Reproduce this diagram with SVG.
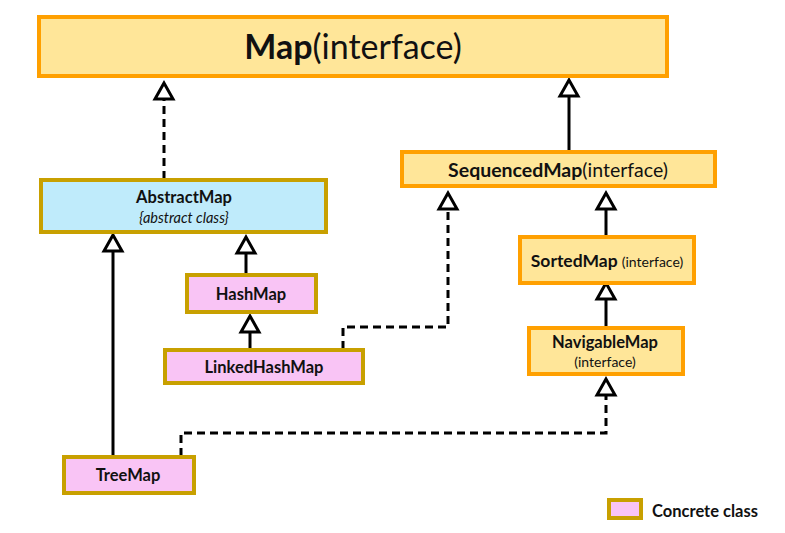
<svg xmlns="http://www.w3.org/2000/svg" width="785" height="533" viewBox="0 0 785 533">
<defs>
<style>
text{font-family:Lato,"Open Sans","Liberation Sans",sans-serif;fill:#111;text-anchor:middle}
.b{font-weight:bold}
.i{font-style:italic}
.iface{fill:#FFE699;stroke:#FFA000;stroke-width:4}
.abs{fill:#BFEBFB;stroke:#C8A000;stroke-width:4}
.conc{fill:#F9C4F5;stroke:#C8A000;stroke-width:4}
.ln{fill:none;stroke:#000;stroke-width:3}
.dash{stroke-dasharray:8 5}
.head{fill:#fff;stroke:#000;stroke-width:3;stroke-linejoin:miter}
</style>
</defs>
<rect width="785" height="533" fill="#fff"/>
<g id="connectors">
<path class="ln dash" d="M164 179 V99"/>
<path class="ln" d="M569 151 V96"/>
<path class="ln" d="M606 236 V209"/>
<path class="ln" d="M606 327 V299"/>
<path class="ln" d="M246 274 V253"/>
<path class="ln" d="M250 349 V332"/>
<path class="ln dash" d="M343 349 V327 H448 V209"/>
<path class="ln" d="M113 456 V251"/>
<path class="ln dash" d="M181 456 V433 H606 V395"/>
<polygon class="head" points="164,83 155,99 173,99"/>
<polygon class="head" points="569,80 560,96 578,96"/>
<polygon class="head" points="606,193 597,209 615,209"/>
<polygon class="head" points="606,283 597,299 615,299"/>
<polygon class="head" points="246,237 237,253 255,253"/>
<polygon class="head" points="250,316 241,332 259,332"/>
<polygon class="head" points="448,193 439,209 457,209"/>
<polygon class="head" points="113,235 104,251 122,251"/>
<polygon class="head" points="606,379 597,395 615,395"/>
</g>
<g id="map">
<rect class="iface" x="39" y="17" width="628" height="59"/>
<text x="353" y="59" font-size="34"><tspan class="b">Map</tspan>(interface)</text>
</g>
<g id="abstractmap">
<rect class="abs" x="41" y="180" width="285" height="52"/>
<text class="b" x="184" y="203" font-size="16.5">AbstractMap</text>
<text class="i" x="184" y="223" font-size="14.5">{abstract class}</text>
</g>
<g id="sequencedmap">
<rect class="iface" x="402" y="152" width="313" height="34"/>
<text x="558" y="177" font-size="19.5"><tspan class="b">SequencedMap</tspan>(interface)</text>
</g>
<g id="sortedmap">
<rect class="iface" x="520" y="237" width="174" height="46"/>
<text x="607" y="267"><tspan class="b" font-size="17.5">SortedMap</tspan> <tspan font-size="14">(interface)</tspan></text>
</g>
<g id="navigablemap">
<rect class="iface" x="529" y="328" width="154" height="46"/>
<text class="b" x="605" y="348" font-size="16.5">NavigableMap</text>
<text x="605" y="367" font-size="14">(interface)</text>
</g>
<g id="hashmap">
<rect class="conc" x="187" y="275" width="129" height="37"/>
<text class="b" x="251" y="300" font-size="16.5">HashMap</text>
</g>
<g id="linkedhashmap">
<rect class="conc" x="165" y="350" width="198" height="33"/>
<text class="b" x="264" y="373" font-size="16.5">LinkedHashMap</text>
</g>
<g id="treemap">
<rect class="conc" x="64" y="457" width="130" height="36"/>
<text class="b" x="128" y="481" font-size="16.5">TreeMap</text>
</g>
<g id="legend">
<rect class="conc" x="609" y="500" width="32" height="18" stroke-width="3"/>
<text class="b" x="652" y="517" font-size="16.5" style="text-anchor:start">Concrete class</text>
</g>
</svg>
